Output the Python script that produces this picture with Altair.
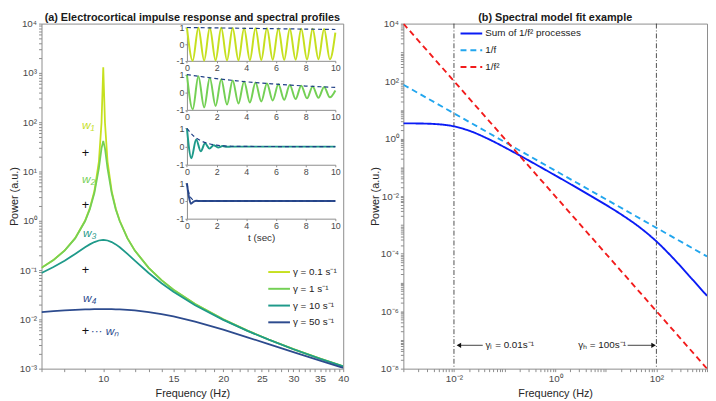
import altair as alt
import pandas as pd

FONT = "Liberation Sans"
LBL = "#4a4a4a"
AXC = "#8c8c8c"

# ---------------- panel (a): spectral profiles ----------------
freq_hz = [7, 7.5, 8, 8.5, 9, 9.25, 9.5, 9.75, 9.9, 10, 10.1, 10.25, 10.5, 10.75,
           11, 11.5, 12, 13, 14, 15, 17, 20, 23, 26, 30, 35, 40]
power_g01 = [0.111, 0.160, 0.250, 0.444, 1.00, 1.78, 4.00, 15.9, 97.6, 1300, 97.6, 15.9, 4.00, 1.78,
             1.00, 0.444, 0.250, 0.111, 0.0625, 0.0400, 0.0204, 0.0100, 0.00592, 0.00391, 0.00250, 0.00160, 0.00111]
power_g1 = [0.1108, 0.1594, 0.2485, 0.4397, 0.977, 1.70, 3.65, 11.6, 29.4, 41.7, 29.4, 11.6, 3.65, 1.70,
            0.977, 0.440, 0.2485, 0.1108, 0.0624, 0.0400, 0.0204, 0.0100, 0.00592, 0.00391, 0.00250, 0.00160, 0.00111]
power_g10 = [0.0873, 0.115, 0.155, 0.213, 0.290, 0.332, 0.370, 0.398, 0.406, 0.408, 0.406, 0.398, 0.370, 0.332,
             0.290, 0.213, 0.155, 0.0873, 0.0542, 0.0364, 0.0194, 0.00976, 0.00583, 0.00387, 0.00248, 0.00159, 0.00111]
power_g50 = [0.01408, 0.01465, 0.01515, 0.01556, 0.01587, 0.01598, 0.01606, 0.01611, 0.01613, 0.01613, 0.01613,
             0.01611, 0.01606, 0.01598, 0.01587, 0.01556, 0.01515, 0.01408, 0.01282, 0.01149, 0.00901, 0.00617,
             0.00433, 0.00314, 0.00216, 0.00146, 0.00104]
gamma_labels = ["γ = 0.1 s⁻¹", "γ = 1 s⁻¹", "γ = 10 s⁻¹", "γ = 50 s⁻¹"]
gamma_colors = ["#c6e01f", "#74d055", "#1f9a8a", "#2d4b8e"]
env_color = "#1f3f86"

# impulse responses (insets)
t_osc = [0, 0.39, 0.77, 1.16, 1.54, 1.93, 2.31, 2.70, 3.08, 3.47, 3.85, 4.24, 4.62, 5.01,
         5.39, 5.78, 6.16, 6.55, 6.93, 7.32, 7.70, 8.09, 8.47, 8.86, 9.24, 9.63, 10.0]
imp_g01 = [1.00, -0.99, 0.99, -0.99, 0.98, -0.98, 0.98, -0.97, 0.97, -0.97, 0.96, -0.96, 0.95, -0.95,
           0.95, -0.94, 0.94, -0.94, 0.93, -0.93, 0.92, -0.92, 0.92, -0.91, 0.91, -0.91, 0.70]
imp_g1 = [1.00, -0.97, 0.90, -0.86, 0.82, -0.78, 0.74, -0.70, 0.67, -0.64, 0.61, -0.58, 0.55, -0.52,
          0.50, -0.47, 0.45, -0.43, 0.41, -0.39, 0.37, -0.35, 0.33, -0.32, 0.30, -0.29, 0.10]
t_g10 = [0, 0.30, 0.62, 0.93, 1.22, 1.52, 1.80, 2.10, 2.40, 2.70, 3.00, 10]
imp_g10 = [1.0, -0.64, 0.40, -0.26, 0.18, -0.11, 0.08, -0.05, 0.03, -0.01, 0.0, 0.0]
t_g50 = [0, 0.12, 0.27, 0.45, 0.65, 0.9, 10]
imp_g50 = [1.0, 0.30, -0.15, -0.03, 0.01, 0.0, 0.0]
env_t_g01 = [0, 10]
env_g01 = [1.0, 0.88]
env_t_g1 = [0, 1, 2, 3, 4, 5, 6, 7, 8, 9, 10]
env_g1 = [1.0, 0.88, 0.77, 0.68, 0.59, 0.52, 0.46, 0.40, 0.35, 0.31, 0.27]
env_t_g10 = [0, 0.5, 1.0, 1.5, 2.0, 2.5, 3.0, 4.0, 10]
env_g10 = [1.0, 0.55, 0.30, 0.16, 0.08, 0.04, 0.02, 0.01, 0.0]
env_t_g50 = [0, 0.15, 0.3, 0.5, 0.8, 10]
env_g50 = [1.0, 0.40, 0.15, 0.04, 0.0, 0.0]

# annotations of panel (a)
w_text = ["w₁", "w₂", "w₃", "w₄", "··· wₙ"]
w_f = [8.85, 8.85, 8.9, 8.9, 9.3]
w_p = [86, 7.0, 0.57, 0.027, 0.0057]
w_col = ["#c6e01f", "#74d055", "#1f9a8a", "#2d4b8e", "#2d4b8e"]
plus_f = [9.03, 9.03, 9.03, 9.03]
plus_p = [24, 2.13, 0.10, 0.0059]

# ---------------- panel (b): spectral model fit ----------------
f_sum = [0.001, 0.002, 0.005, 0.01, 0.02, 0.05, 0.1, 0.2, 0.5, 1, 2, 5, 10, 20, 50, 100, 200, 500, 1000]
p_sum = [3.39, 3.36, 3.15, 2.67, 1.88, 0.934, 0.500, 0.258, 0.105, 0.0527, 0.0263, 0.0103, 0.0050,
         0.00233, 7.5e-4, 2.67e-4, 7.9e-5, 1.34e-5, 3.4e-6]
f_inv = [0.001, 1000]
p_inv = [75, 8e-5]
f_inv2 = [0.001, 1000]
p_inv2 = [1e4, 1e-8]
series_b = ["Sum of 1/f² processes", "1/f", "1/f²"]
colors_b = ["#0a1cf5", "#22a6ee", "#f21c1c"]
gamma_lines = [0.01, 100]
arrow_f0 = [0.0125, 27]
arrow_f1 = [0.037, 86]
arrow_p = [6.5e-8, 6.5e-8]
head_f = [0.0125, 88]
head_shape = ["triangle-left", "triangle-right"]
ann_text = ["γₗ = 0.01s⁻¹", "γₕ = 100s⁻¹"]
ann_f = [0.042, 25]

# ---------------- layout ----------------
W1, W2, H = 306, 308, 350
REF_H = 352.0
inset_x = (0.482 * W1, 0.974 * W1)
inset_y_ref = [(4, 38), (52, 88), (107, 144), (163, 199)]

SUP = {"-": "⁻", "0": "⁰", "1": "¹", "2": "²", "3": "³", "4": "⁴",
       "5": "⁵", "6": "⁶", "7": "⁷", "8": "⁸", "9": "⁹"}


def sup(e):
    return "".join(SUP[c] for c in str(e))


def log_ticks(e0, e1):
    vals = []
    for e in range(e0, e1):
        for k in range(1, 10):
            vals.append(k * 10.0 ** e)
    vals.append(10.0 ** e1)
    return vals


def pow_expr(exps):
    parts = [f"datum.value == {repr(10.0 ** e)} ? '10{sup(e)}'" for e in exps]
    return " : ".join(parts) + " : ''"


axis_common = dict(labelFont=FONT, titleFont=FONT, labelFontSize=10, titleFontSize=11,
                   labelColor=LBL, titleColor="#262626", titleFontWeight="normal",
                   tickColor=AXC, tickSize=3, domain=False, grid=False,
                   labelOverlap=False, labelFlush=False, labelPadding=2)


def legend_kw(x, y):
    return dict(title=None, orient="none", legendX=x, legendY=y,
                symbolType="stroke", symbolSize=484, symbolStrokeWidth=2,
                labelFont=FONT, labelFontSize=10, labelColor="#222",
                rowPadding=-9, padding=0, labelOffset=2)


# ---- panel (a) main ----
spec_df = pd.DataFrame({
    "f": freq_hz * 4,
    "P": power_g01 + power_g1 + power_g10 + power_g50,
    "g": sum([[g] * len(freq_hz) for g in gamma_labels], []),
})
xs_a = alt.Scale(type="log", domain=[7, 40], nice=False)
ys_a = alt.Scale(type="log", domain=[1e-3, 1e4], nice=False)

lines_a = alt.Chart(spec_df).mark_line(strokeWidth=1.8, clip=True).encode(
    x=alt.X("f:Q", scale=xs_a, title="Frequency (Hz)",
            axis=alt.Axis(values=list(range(7, 41)),
                          labelExpr="indexof([10,15,20,25,30,35,40], datum.value) >= 0 ? '' + datum.value : ''",
                          **axis_common)),
    y=alt.Y("P:Q", scale=ys_a, title="Power (a.u.)",
            axis=alt.Axis(values=log_ticks(-3, 4), labelExpr=pow_expr(range(-3, 5)),
                          titlePadding=0, **axis_common)),
    color=alt.Color("g:N", scale=alt.Scale(domain=gamma_labels, range=gamma_colors),
                    legend=alt.Legend(**legend_kw(229, 240))),
)
w_df = pd.DataFrame({"f": w_f, "P": w_p, "txt": w_text, "col": w_col})
w_marks = alt.Chart(w_df).mark_text(font=FONT, fontSize=12, fontStyle="italic", align="left").encode(
    x="f:Q", y="P:Q", text="txt:N", color=alt.Color("col:N", scale=None))
plus_df = pd.DataFrame({"f": plus_f, "P": plus_p})
plus_marks = alt.Chart(plus_df).mark_text(text="+", font=FONT, fontSize=13, color="#111").encode(
    x="f:Q", y="P:Q")
main_a = alt.layer(lines_a, w_marks, plus_marks)


def inset(t_line, v_line, t_env, v_env, color, yref, last):
    y0 = yref[0] / REF_H * H
    y1 = yref[1] / REF_H * H
    xs = alt.Scale(domain=[0, 10], range=[inset_x[0], inset_x[1]], nice=False)
    ys = alt.Scale(domain=[-1, 1], range=[y1, y0], nice=False)
    ax_kw = dict(labelFont=FONT, titleFont=FONT, labelFontSize=9, titleFontSize=10, labelColor=LBL,
                 titleColor="#333", titleFontWeight="normal", domainColor=AXC, tickColor=AXC,
                 tickSize=2, grid=False, labelPadding=1, labelFlush=False, labelOverlap=False)
    xax = alt.Axis(orient="bottom", offset=y1 - H, values=[0, 2, 4, 6, 8, 10],
                   title="t (sec)" if last else None, titlePadding=2, **ax_kw)
    yax = alt.Axis(orient="left", offset=-inset_x[0], values=[-1, 0, 1],
                   labelExpr="'' + datum.value", title=None, **ax_kw)
    ln = alt.Chart(pd.DataFrame({"t": t_line, "v": v_line})).mark_line(
        color=color, strokeWidth=2, interpolate="monotone").encode(
        x=alt.X("t:Q", scale=xs, axis=xax), y=alt.Y("v:Q", scale=ys, axis=yax))
    env = alt.Chart(pd.DataFrame({"t": t_env, "v": v_env})).mark_line(
        color=env_color, strokeWidth=1.2, strokeDash=[4, 3], interpolate="monotone").encode(
        x="t:Q", y="v:Q")
    return alt.layer(ln, env)


in1 = inset(t_osc, imp_g01, env_t_g01, env_g01, gamma_colors[0], inset_y_ref[0], False)
in2 = inset(t_osc, imp_g1, env_t_g1, env_g1, gamma_colors[1], inset_y_ref[1], False)
in3 = inset(t_g10, imp_g10, env_t_g10, env_g10, gamma_colors[2], inset_y_ref[2], False)
in4 = inset(t_g50, imp_g50, env_t_g50, env_g50, gamma_colors[3], inset_y_ref[3], True)

panel_a = alt.layer(main_a, in1, in2, in3, in4).resolve_scale(
    x="independent", y="independent").properties(
    width=W1, height=H,
    title=alt.TitleParams("(a) Electrocortical impulse response and spectral profiles",
                          font=FONT, fontSize=11, fontWeight="bold", color="#1a1a1a", offset=-4))

# ---- panel (b) ----
xs_b = alt.Scale(type="log", domain=[1e-3, 1e3], nice=False)
ys_b = alt.Scale(type="log", domain=[1e-8, 1e4], nice=False)
b_df = pd.DataFrame({
    "f": f_sum + f_inv + f_inv2,
    "P": p_sum + p_inv + p_inv2,
    "s": [series_b[0]] * len(f_sum) + [series_b[1]] * len(f_inv) + [series_b[2]] * len(f_inv2),
})
lines_b = alt.Chart(b_df).mark_line(strokeWidth=1.9, clip=True, interpolate="monotone").encode(
    x=alt.X("f:Q", scale=xs_b, title="Frequency (Hz)",
            axis=alt.Axis(values=log_ticks(-3, 3), labelExpr=pow_expr([-2, 0, 2]), **axis_common)),
    y=alt.Y("P:Q", scale=ys_b, title="Power (a.u.)",
            axis=alt.Axis(values=log_ticks(-8, 4), labelExpr=pow_expr([-8, -6, -4, -2, 0, 2, 4]),
                          titlePadding=0, **axis_common)),
    color=alt.Color("s:N", scale=alt.Scale(domain=series_b, range=colors_b),
                    legend=alt.Legend(**legend_kw(57, -2))),
    strokeDash=alt.StrokeDash("s:N", scale=alt.Scale(domain=series_b, range=[[1, 0], [6, 4], [6, 4]]),
                              legend=alt.Legend(**legend_kw(57, -2))),
)
vlines = alt.Chart(pd.DataFrame({"f": gamma_lines})).mark_rule(
    color="#222", strokeWidth=0.8, strokeDash=[5, 2, 1, 2]).encode(x="f:Q")
arr_df = pd.DataFrame({"f0": arrow_f0, "f1": arrow_f1, "P": arrow_p})
shafts = alt.Chart(arr_df).mark_rule(color="#111", strokeWidth=0.8).encode(
    x="f0:Q", x2="f1:Q", y="P:Q")
head_df = pd.DataFrame({"f": head_f, "P": arrow_p, "shape": head_shape})
heads = alt.Chart(head_df).mark_point(filled=True, color="#111", size=28, opacity=1).encode(
    x="f:Q", y="P:Q", shape=alt.Shape("shape:N", scale=None))
ann_df = pd.DataFrame({"f": ann_f, "P": arrow_p, "txt": ann_text})
ann_l = alt.Chart(ann_df.iloc[[0]]).mark_text(font=FONT, fontSize=10, align="left", color="#222").encode(
    x="f:Q", y="P:Q", text="txt:N")
ann_r = alt.Chart(ann_df.iloc[[1]]).mark_text(font=FONT, fontSize=10, align="right", color="#222").encode(
    x="f:Q", y="P:Q", text="txt:N")

panel_b = alt.layer(vlines, lines_b, shafts, heads, ann_l, ann_r).properties(
    width=W2, height=H,
    title=alt.TitleParams("(b) Spectral model fit example",
                          font=FONT, fontSize=11, fontWeight="bold", color="#1a1a1a", offset=-4))

chart = alt.hconcat(panel_a, panel_b, spacing=19).resolve_scale(
    color="independent", strokeDash="independent").configure(
    font=FONT, padding=0).configure_view(stroke=AXC, strokeWidth=1)

chart.save("out.html", embed_options={"renderer": "svg", "actions": False})
